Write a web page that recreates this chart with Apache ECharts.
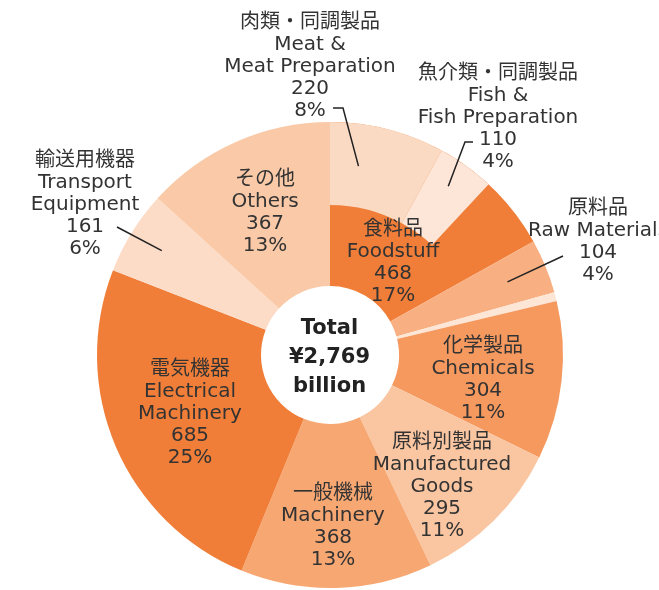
<!DOCTYPE html>
<html>
<head>
<meta charset="utf-8">
<script src="https://cdn.jsdelivr.net/npm/echarts@6/dist/echarts.min.js"></script>
<style>
  html, body { margin: 0; padding: 0; background: #fff; }
  #main { width: 659px; height: 590px; }
</style>
</head>
<body>
<div id="main"></div>
<script>
// 品目（時計回り、12時から）
var namesJa = ['食料品', '原料品', '鉱物性燃料', '化学製品', '原料別製品', '一般機械', '電気機器', '輸送用機器', 'その他'];
var namesEn = ['Foodstuff', 'Raw Materials', 'Mineral Fuels', 'Chemicals', 'Manufactured\nGoods', 'Machinery', 'Electrical\nMachinery', 'Transport\nEquipment', 'Others'];
var values = [468, 104, 17, 304, 295, 368, 685, 161, 367];
// 食料品の内訳
var subJa = ['肉類・同調製品', '魚介類・同調製品'];
var subEn = ['Meat &\nMeat Preparation', 'Fish &\nFish Preparation'];
var subValues = [220, 110];

var colors = ['#F07E38', '#F8B083', '#FDE6D6', '#F5995F', '#FAC6A1', '#F7A772', '#F07E38', '#FCDCC7', '#FACAA8'];
var subColors = ['#FBDAC3', '#FDE6D8'];

var total = values.reduce(function (a, b) { return a + b; }, 0);

// 図の中心と半径
var cx = 330, cy = 355;
var rIn = 69, rMid = 150, rOut = 233;

// 内側ラベル位置（中心座標）
var insideLabelPos = {
  0: [393, 263], 3: [483, 380], 4: [442, 487],
  5: [333, 527], 6: [190, 414], 8: [265, 213]
};

function polar(angle, r) {
  var a = angle * Math.PI / 180;
  return [cx + r * Math.sin(a), cy - r * Math.cos(a)];
}

function fmt(p) {
  return p.name + '\n' + p.value + '\n' + Math.round(p.value / total * 100) + '%';
}

var labelStyle = {
  color: '#333',
  fontSize: 20,
  lineHeight: 22,
  fontFamily: 'DejaVu Sans, Noto Sans CJK JP, sans-serif',
  align: 'center',
  formatter: fmt
};

// 塗り
var mainData = values.map(function (v, i) {
  var item = { name: namesJa[i] + '\n' + namesEn[i], value: v, itemStyle: { color: colors[i] } };
  if (!insideLabelPos[i]) item.label = { show: false };
  return item;
});

var subData = subValues.map(function (v, i) {
  return { name: subJa[i], value: v, itemStyle: { color: subColors[i] } };
});
subData.push({ name: 'rest', value: total - subValues[0] - subValues[1], itemStyle: { color: 'transparent' } });

// 引出線つきラベル用（透明の重ね）
var foodRest = values[0] - subValues[0] - subValues[1];
var outVals = [subValues[0], subValues[1], foodRest].concat(values.slice(1));
var outNames = [subJa[0] + '\n' + subEn[0], subJa[1] + '\n' + subEn[1], 'food-rest']
  .concat(values.slice(1).map(function (v, i) { return namesJa[i + 1] + '\n' + namesEn[i + 1]; }));
// index: label center, start offset within slice, start radius, elbow/end offsets from label center
var outLabels = {
  0: { pos: [310, 67], f: 0.3, r: 191, pts: [[33, 41], [23, 41]] },
  1: { pos: [498, 118], f: 0.45, r: 206, pts: [[-33, 24], [-25, 24]] },
  3: { pos: [598, 242], f: 0.5, r: 192, pts: [[-35, 14]] },
  9: { pos: [85, 205], f: 0.5, r: 198, pts: [[32, 22]] }
};
var outData = outVals.map(function (v, i) {
  return {
    name: outNames[i], value: v,
    itemStyle: { color: 'transparent' },
    label: { show: !!outLabels[i] },
    labelLine: { show: !!outLabels[i] }
  };
});
function startAngle(idx, f) {
  var s = 0;
  for (var i = 0; i < idx; i++) s += outVals[i];
  return (s + outVals[idx] * f) / total * 360;
}

var myChart = echarts.init(document.getElementById('main'));
var option = {
  animation: false,
  title: {
    text: 'Total\n¥' + total.toLocaleString('en-US') + '\nbillion',
    left: 'center',
    top: 309,
    textStyle: {
      color: '#222',
      fontSize: 21,
      fontWeight: 'bold',
      lineHeight: 29,
      fontFamily: 'DejaVu Sans, sans-serif'
    }
  },
  series: [
    {
      type: 'pie',
      center: [cx, cy],
      radius: [rIn, rOut],
      startAngle: 90,
      silent: true,
      avoidLabelOverlap: false,
      label: Object.assign({ show: true, position: 'inside' }, labelStyle),
      labelLine: { show: false },
      labelLayout: function (p) {
        var pos = insideLabelPos[p.dataIndex];
        if (!pos) return {};
        return { x: pos[0], y: pos[1], align: 'center', verticalAlign: 'middle' };
      },
      data: mainData
    },
    {
      type: 'pie',
      center: [cx, cy],
      radius: [rMid, rOut],
      startAngle: 90,
      silent: true,
      label: { show: false },
      labelLine: { show: false },
      data: subData
    },
    {
      type: 'pie',
      z: 5,
      center: [cx, cy],
      radius: [rIn, rOut],
      startAngle: 90,
      silent: true,
      avoidLabelOverlap: false,
      label: Object.assign({ position: 'outside' }, labelStyle),
      labelLine: { lineStyle: { color: '#222', width: 1.5 } },
      labelLayout: function (p) {
        var o = outLabels[p.dataIndex];
        if (!o) return {};
        var pts = [polar(startAngle(p.dataIndex, o.f), o.r)];
        o.pts.forEach(function (d) { pts.push([o.pos[0] + d[0], o.pos[1] + d[1]]); });
        return { x: o.pos[0], y: o.pos[1], align: 'center', verticalAlign: 'middle', labelLinePoints: pts };
      },
      data: outData
    }
  ]
};
myChart.setOption(option);
window.onresize = myChart.resize;
</script>
</body>
</html>
